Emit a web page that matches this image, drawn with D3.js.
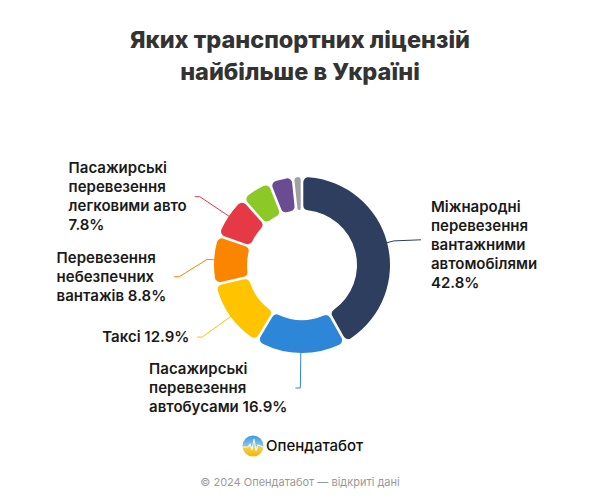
<!DOCTYPE html>
<html>
<head>
  <meta charset="utf-8" />
  <title>Транспортні ліцензії</title>
  <script src="https://d3js.org/d3.v7.min.js"></script>
  <style>
    body {
      margin: 0;
      background: #fff;
      font-family: "Inter", "Roboto", sans-serif;
    }
    #chart {
      width: 600px;
      height: 500px;
    }
  </style>
</head>
<body>
  <div id="chart"></div>

  <script>
    // data, clockwise from 12 o'clock
    var categories = [
      "Міжнародні перевезення вантажними автомобілями",
      "Пасажирські перевезення автобусами",
      "Таксі",
      "Перевезення небезпечних вантажів",
      "Пасажирські перевезення легковими авто",
      "Інше 1",
      "Інше 2",
      "Інше 3"
    ];
    var shares = [42.8, 16.9, 12.9, 8.8, 7.8, 5.4, 4.1, 1.3];
    var colors = ["#2e3e5e", "#2e86d9", "#ffc300", "#fb8500", "#e63946", "#8dc926", "#6a4c93", "#a0a0a0"];
    // label text, broken into lines as in the picture (null = no label)
    var labelLines = [
      ["Міжнародні", "перевезення", "вантажними", "автомобілями", "42.8%"],
      ["Пасажирські", "перевезення", "автобусами 16.9%"],
      ["Таксі 12.9%"],
      ["Перевезення", "небезпечних", "вантажів 8.8%"],
      ["Пасажирські", "перевезення", "легковими авто", "7.8%"],
      null, null, null
    ];
    // vertical nudge of each label so they don't collide
    var labelNudge = [6, 0, 0, 19, 0, 0, 0, 0];

    var width = 600, height = 500;
    var cx = 302, cy = 265;
    var outerR = 88, innerR = 55, leaderR = 123;
    var lineH = 19;

    var svg = d3.select("#chart").append("svg")
      .attr("width", width)
      .attr("height", height);

    // title
    svg.append("text")
      .attr("x", width / 2)
      .attr("text-anchor", "middle")
      .attr("font-size", 23.5)
      .attr("font-weight", 800)
      .attr("fill", "#333")
      .selectAll("tspan")
      .data(["Яких транспортних ліцензій", "найбільше в Україні"])
      .join("tspan")
      .attr("x", width / 2)
      .attr("y", (d, i) => 48 + i * 32)
      .text(d => d);

    var data = categories.map((c, i) => ({
      name: c, value: shares[i], color: colors[i], lines: labelLines[i], nudge: labelNudge[i]
    }));

    var pie = d3.pie()
      .value(d => d.value)
      .sort(null)
      .padAngle(0.025);

    var arc = d3.arc()
      .innerRadius(innerR)
      .outerRadius(outerR)
      .cornerRadius(5);

    var arcs = pie(data);

    var g = svg.append("g").attr("transform", `translate(${cx},${cy})`);

    g.selectAll("path.slice")
      .data(arcs)
      .join("path")
      .attr("class", "slice")
      .attr("d", arc)
      .attr("fill", d => d.data.color);

    function polar(r, a) {
      return [r * Math.sin(a), -r * Math.cos(a)];
    }

    var labelled = arcs.filter(d => d.data.lines);

    labelled.forEach(d => {
      var mid = (d.startAngle + d.endAngle) / 2;
      var p0 = polar(outerR - 1, mid);
      var pe = polar(outerR + 7, mid);
      var p1 = polar(leaderR, mid);
      p1[1] += d.data.nudge;
      var right = p1[0] > 0;
      var p2 = [p1[0] + (right ? 0 : -5), p1[1]];
      var pts = d.data.nudge ? [p0, pe, p1, p2] : [p0, p1, p2];

      g.append("path")
        .attr("d", d3.line()(pts))
        .attr("fill", "none")
        .attr("stroke", d.data.color)
        .attr("stroke-width", 1);

      var t = g.append("text")
        .attr("font-size", 15)
        .attr("font-weight", 600)
        .attr("fill", "#1a1a1a");

      var n = d.data.lines.length;
      var y0 = p2[1] - (n - 1) * lineH / 2 + 5 + (right ? 5 : 0);
      var spans = t.selectAll("tspan")
        .data(d.data.lines)
        .join("tspan")
        .attr("x", 0)
        .attr("y", (s, i) => y0 + i * lineH)
        .text(s => s);

      var w = d3.max(spans.nodes(), s => s.getComputedTextLength());
      var x = right ? p2[0] + 10 : p2[0] - 8 - w;
      spans.attr("x", x);
    });

    // logo
    var defs = svg.append("defs");
    var grad = defs.append("linearGradient")
      .attr("id", "logoGrad")
      .attr("x1", 0).attr("y1", 0)
      .attr("x2", 0).attr("y2", 1);
    grad.append("stop").attr("offset", "0%").attr("stop-color", "#3d9be9");
    grad.append("stop").attr("offset", "50%").attr("stop-color", "#8cc3e0");
    grad.append("stop").attr("offset", "55%").attr("stop-color", "#f5d04a");
    grad.append("stop").attr("offset", "100%").attr("stop-color", "#f2b705");

    var logo = svg.append("g").attr("transform", "translate(253,446)");
    logo.append("circle").attr("r", 10.5).attr("fill", "url(#logoGrad)");
    logo.append("path")
      .attr("d", "M-10,1 L-5,1 L-3,-2 L-1,4 L1,-7 L3,5 L5,-1 L10,1")
      .attr("fill", "none")
      .attr("stroke", "#fff")
      .attr("stroke-width", 1.2)
      .attr("opacity", 0.85);

    svg.append("text")
      .attr("x", 266)
      .attr("y", 451)
      .attr("font-size", 15)
      .attr("font-weight", 500)
      .attr("fill", "#111")
      .text("Опендатабот");

    svg.append("text")
      .attr("x", width / 2)
      .attr("y", 486)
      .attr("text-anchor", "middle")
      .attr("font-size", 11)
      .attr("fill", "#999")
      .text("© 2024 Опендатабот — відкриті дані");
  </script>
</body>
</html>
